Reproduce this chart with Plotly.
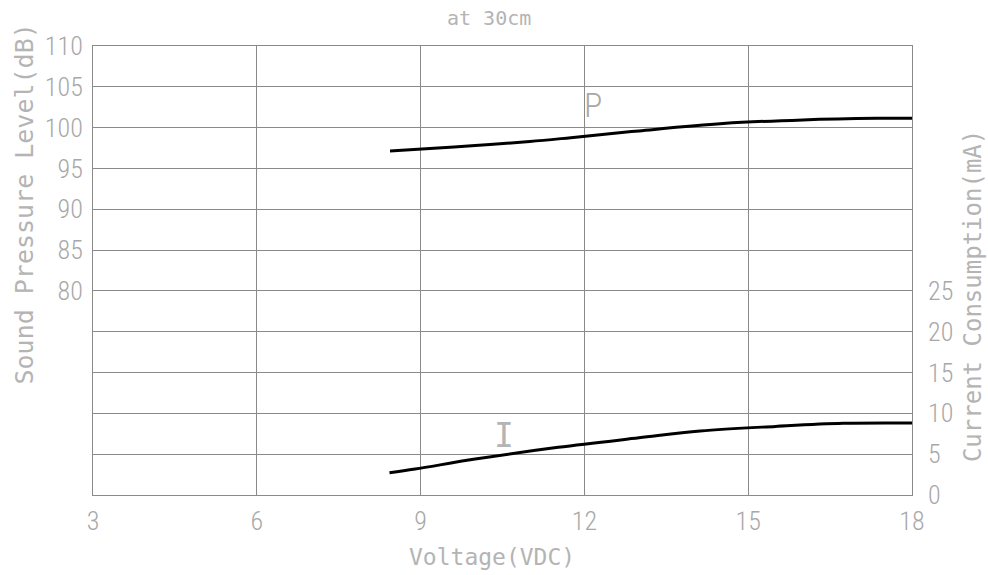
import plotly.graph_objects as go

# Data
p_voltage = [8.44, 8.95, 10.0, 11.0, 11.75, 13.0, 14.54, 16.0, 17.36, 18.0]
p_spl = [97.14, 97.35, 97.8, 98.3, 98.77, 99.6, 100.5, 100.95, 101.14, 101.15]

i_voltage = [8.43, 8.9, 10.0, 11.52, 13.0, 14.12, 15.5, 16.74, 18.0]
i_current = [2.73, 3.18, 4.4, 5.84, 7.0, 7.84, 8.4, 8.78, 8.82]

x_ticks = [3, 6, 9, 12, 15, 18]
left_ticks = [55, 60, 65, 70, 75, 80, 85, 90, 95, 100, 105, 110]
left_labels = ["", "", "", "", "", "80", "85", "90", "95", "100", "105", "110"]
right_ticks = [0, 5, 10, 15, 20, 25]

TICKFONT = "Roboto Condensed, DejaVu Sans Condensed, sans-serif"
TITLEFONT = "DejaVu Sans Mono, monospace"
TXT = "#a8a8a8"
TITLE_TXT = "#b4b4b4"
GRID = "#8a8a8a"

fig = go.Figure()
fig.add_trace(go.Scatter(x=p_voltage, y=p_spl, mode="lines", line=dict(color="black", width=3, shape="spline"),
                         showlegend=False, yaxis="y", hoverinfo="skip"))
fig.add_trace(go.Scatter(x=i_voltage, y=i_current, mode="lines", line=dict(color="black", width=3, shape="spline"),
                         showlegend=False, yaxis="y2", hoverinfo="skip"))

tf = dict(family=TICKFONT, size=26, color=TXT, weight=300)

fig.update_layout(
    width=988, height=575,
    margin=dict(l=93, r=76, t=46, b=80),
    paper_bgcolor="white", plot_bgcolor="white",
    font=dict(family=TICKFONT, color=TXT, size=24),
    xaxis=dict(range=[3, 18], tickvals=x_ticks, ticktext=[str(v) for v in x_ticks],
               showgrid=True, gridcolor=GRID, gridwidth=1, zeroline=False,
               showline=True, linecolor=GRID, linewidth=1, mirror=True, ticks="",
               tickfont=tf, ticklabelstandoff=3, fixedrange=True),
    yaxis=dict(range=[55, 110], tickvals=left_ticks, ticktext=left_labels,
               showgrid=True, gridcolor=GRID, gridwidth=1, zeroline=False,
               showline=True, linecolor=GRID, linewidth=1, mirror=True, ticks="",
               tickfont=tf, ticklabelstandoff=4, fixedrange=True),
    yaxis2=dict(range=[0, 55], tickvals=right_ticks, ticktext=[str(v) for v in right_ticks],
                overlaying="y", side="right", showgrid=False, zeroline=False, showline=False, ticks="",
                tickfont=tf, ticklabelstandoff=15, fixedrange=True),
)

fig.add_annotation(text="at 30cm", xref="paper", yref="paper", x=0.483, y=1.0, yshift=28,
                   showarrow=False, font=dict(family=TITLEFONT, size=20, color=TITLE_TXT),
                   xanchor="center", yanchor="middle")
fig.add_annotation(text="Voltage(VDC)", xref="paper", yref="paper", x=0.4875, y=0, yshift=-62,
                   showarrow=False, font=dict(family=TITLEFONT, size=23, color=TITLE_TXT),
                   xanchor="center", yanchor="middle")
fig.add_annotation(text="Sound Pressure Level(dB)", xref="paper", yref="paper", x=0, xshift=-69,
                   y=0.647, textangle=-90, showarrow=False, font=dict(family=TITLEFONT, size=25, color=TITLE_TXT),
                   xanchor="center", yanchor="middle")
fig.add_annotation(text="Current Consumption(mA)", xref="paper", yref="paper", x=1, xshift=61,
                   y=0.443, textangle=-90, showarrow=False, font=dict(family=TITLEFONT, size=24, color=TITLE_TXT),
                   xanchor="center", yanchor="middle")
fig.add_annotation(text="P", x=12.16, y=102.8, xref="x", yref="y", showarrow=False,
                   font=dict(family=TICKFONT, size=34, color=TXT, weight=300))
fig.add_annotation(text="I", x=10.52, y=7.35, xref="x", yref="y2", showarrow=False,
                   font=dict(family=TITLEFONT, size=33, color=TITLE_TXT))

fig.write_html("out.html", config=dict(displayModeBar=False),
               post_script="document.body.style.margin='0';")
